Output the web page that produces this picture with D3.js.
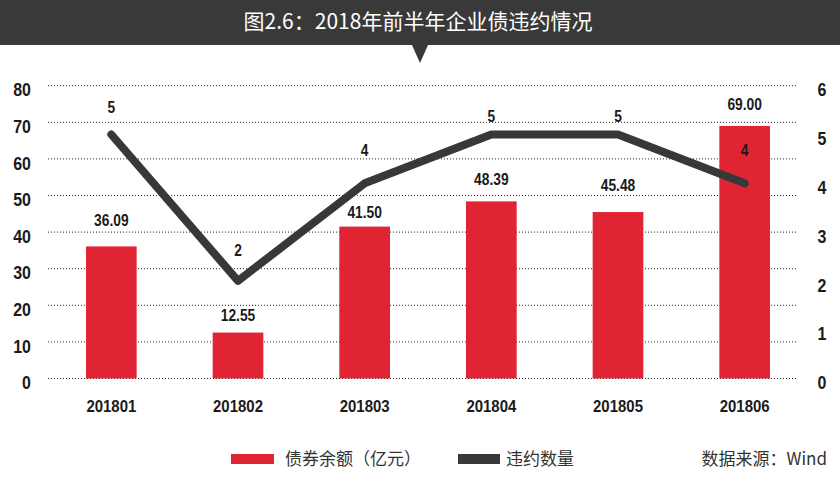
<!DOCTYPE html>
<html><head><meta charset="utf-8">
<script src="https://cdn.jsdelivr.net/npm/d3@7/dist/d3.min.js"></script>
<style>
html,body{margin:0;padding:0;background:#fff;}
svg{display:block;}
</style></head>
<body>
<svg id="chart" width="840" height="487"></svg>
<script>
// ---- data ----
const categories = ["201801","201802","201803","201804","201805","201806"];
const bondBalance = [36.09, 12.55, 41.50, 48.39, 45.48, 69.00];   // 债券余额（亿元）
const defaultCount = [5, 2, 4, 5, 5, 4];                          // 违约数量
const barLabels = ["36.09","12.55","41.50","48.39","45.48","69.00"];
const leftTicks = [0,10,20,30,40,50,60,70,80];
const rightTicks = [0,1,2,3,4,5,6];
const titleText = "图2.6：2018年前半年企业债违约情况";
const legendNames = ["债券余额（亿元）","违约数量"];
const sourceText = "数据来源：Wind";

// ---- layout ----
const W = 840, H = 487;
const plotTop = 85.7, plotBottom = 378.5, gridLeft = 48, gridRight = 796;
const RED = "#e02434", DARK = "#383838";
const numFont = "'Liberation Sans',Arial,sans-serif";
const cjkFont = "'Noto Sans CJK SC','Noto Sans',sans-serif";
// manual label nudges (pixels above mark), as in the source
const barLabelGap = [26, 17.6, 14, 22, 27, 22];
const lineLabelGap = [27.5, 31, 33, 18, 18, 33];

const svg = d3.select("#chart");

// condense numeric text horizontally (source uses a narrow face)
function narrow(sel, k) {
  sel.each(function() {
    const len = this.getComputedTextLength();
    d3.select(this).attr("textLength", len * k).attr("lengthAdjust", "spacingAndGlyphs");
  });
}

const x = d3.scaleBand().domain(categories).range([48, 808]).paddingInner(0.6).paddingOuter(0.3);
const yL = d3.scaleLinear().domain([0, 80]).range([plotBottom, plotTop]);
const yR = d3.scaleLinear().domain([0, 6]).range([plotBottom, plotTop]);

// title bar
svg.append("rect").attr("x",0).attr("y",0).attr("width",W).attr("height",45).attr("fill","#393939");
svg.append("path").attr("d", d3.line()([[411.5,44],[428.5,44],[420,63]])).attr("fill","#393939");
svg.append("text").attr("x",418).attr("y",29).attr("text-anchor","middle")
  .attr("fill","#fff").attr("font-family",cjkFont).attr("font-size",21).attr("font-weight",400)
  .text(titleText);

// gridlines
svg.append("g").selectAll("line").data(leftTicks).join("line")
  .attr("x1",gridLeft).attr("x2",gridRight)
  .attr("y1",d=>yL(d)).attr("y2",d=>yL(d))
  .attr("stroke","#222").attr("stroke-width",1).attr("stroke-dasharray","1,2");

// left axis
const axL = d3.axisLeft(yL).tickValues(leftTicks).tickSize(0).tickPadding(0).tickFormat(d3.format("d"));
const gL = svg.append("g").attr("transform","translate(31,0)").call(axL);
gL.select(".domain").remove();
gL.selectAll("text").attr("font-family",numFont).attr("font-size",19).attr("font-weight","bold")
  .attr("fill","#1a1a1a").attr("dy","0.72em").attr("y",-3.5).call(narrow, 0.84);

// right axis
const axR = d3.axisRight(yR).tickValues(rightTicks).tickSize(0).tickPadding(0).tickFormat(d3.format("d"));
const gR = svg.append("g").attr("transform","translate(822,0)").call(axR);
gR.select(".domain").remove();
gR.selectAll("text").attr("font-family",numFont).attr("font-size",19).attr("font-weight","bold")
  .attr("fill","#1a1a1a").attr("text-anchor","middle").attr("dy","0.72em").attr("y",-3.5).call(narrow, 0.84);

// bottom axis
const axB = d3.axisBottom(x).tickSize(0).tickPadding(0);
const gB = svg.append("g").attr("transform","translate(0,400)").call(axB);
gB.select(".domain").remove();
gB.selectAll("text").attr("font-family",numFont).attr("font-size",17).attr("font-weight","bold")
  .attr("fill","#1a1a1a").attr("dy","0.72em").attr("y",0).call(narrow, 0.88);

// bars
svg.append("g").selectAll("rect").data(bondBalance).join("rect")
  .attr("x",(d,i)=>x(categories[i])).attr("width",x.bandwidth())
  .attr("y",d=>yL(d)).attr("height",d=>yL(0)-yL(d)).attr("fill",RED);

// bar labels
svg.append("g").selectAll("text").data(bondBalance).join("text")
  .attr("x",(d,i)=>x(categories[i])+x.bandwidth()/2)
  .attr("y",(d,i)=>yL(d)-barLabelGap[i]).attr("dy","0.36em")
  .attr("text-anchor","middle").attr("font-family",numFont).attr("font-size",16).attr("font-weight","bold")
  .attr("fill","#1a1a1a").text((d,i)=>barLabels[i]).call(narrow, 0.86);

// line
const line = d3.line().x((d,i)=>x(categories[i])+x.bandwidth()/2).y(d=>yR(d));
svg.append("path").datum(defaultCount).attr("d",line).attr("fill","none")
  .attr("stroke",DARK).attr("stroke-width",8).attr("stroke-linecap","round").attr("stroke-linejoin","round");

// line labels
svg.append("g").selectAll("text").data(defaultCount).join("text")
  .attr("x",(d,i)=>x(categories[i])+x.bandwidth()/2)
  .attr("y",(d,i)=>yR(d)-lineLabelGap[i]).attr("dy","0.36em")
  .attr("text-anchor","middle").attr("font-family",numFont).attr("font-size",16).attr("font-weight","bold")
  .attr("fill","#1a1a1a").text(d=>d).call(narrow, 0.86);

// legend
const lg = svg.append("g");
lg.append("rect").attr("x",231).attr("y",454).attr("width",43).attr("height",10).attr("fill",RED);
lg.append("text").attr("x",285).attr("y",459).attr("dy","0.36em").attr("font-family",cjkFont)
  .attr("font-size",17).attr("fill","#333").text(legendNames[0]);
lg.append("rect").attr("x",458).attr("y",454).attr("width",42).attr("height",10).attr("fill",DARK);
lg.append("text").attr("x",506).attr("y",459).attr("dy","0.36em").attr("font-family",cjkFont)
  .attr("font-size",17).attr("fill","#333").text(legendNames[1]);
lg.append("text").attr("x",827).attr("y",459).attr("dy","0.36em").attr("text-anchor","end").attr("font-family",cjkFont)
  .attr("font-size",17).attr("fill","#333").text(sourceText);
</script>
</body></html>
